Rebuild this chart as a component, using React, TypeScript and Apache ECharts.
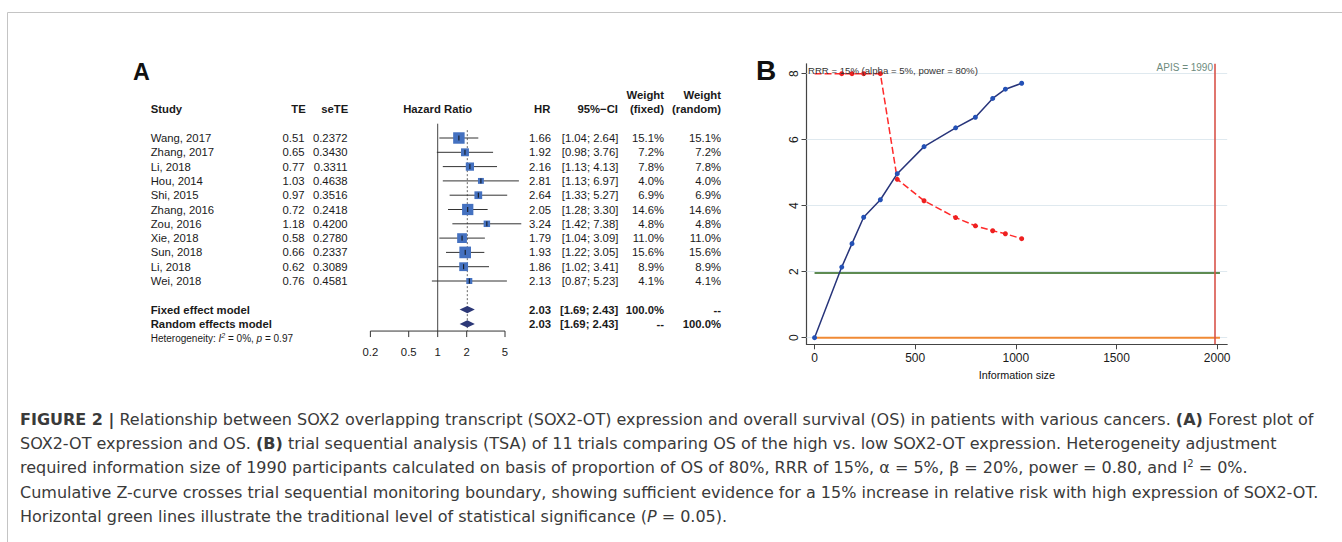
import React, { useEffect, useRef } from "react";
import * as echarts from "echarts";

const FONT = "'Liberation Sans', Arial, Helvetica, sans-serif";
const CAP_FONT = "'DejaVu Sans', 'Liberation Sans', sans-serif";

// ---------- Panel A data (forest plot) ----------
const STUDIES = ["Wang, 2017", "Zhang, 2017", "Li, 2018", "Hou, 2014", "Shi, 2015", "Zhang, 2016", "Zou, 2016", "Xie, 2018", "Sun, 2018", "Li, 2018", "Wei, 2018"];
const TE = [0.51, 0.65, 0.77, 1.03, 0.97, 0.72, 1.18, 0.58, 0.66, 0.62, 0.76];
const SE_TE = [0.2372, 0.343, 0.3311, 0.4638, 0.3516, 0.2418, 0.42, 0.278, 0.2337, 0.3089, 0.4581];
const HR = [1.66, 1.92, 2.16, 2.81, 2.64, 2.05, 3.24, 1.79, 1.93, 1.86, 2.13];
const CI_LO = [1.04, 0.98, 1.13, 1.13, 1.33, 1.28, 1.42, 1.04, 1.22, 1.02, 0.87];
const CI_HI = [2.64, 3.76, 4.13, 6.97, 5.27, 3.3, 7.38, 3.09, 3.05, 3.41, 5.23];
const W_FIXED = [15.1, 7.2, 7.8, 4.0, 6.9, 14.6, 4.8, 11.0, 15.6, 8.9, 4.1];
const W_RANDOM = [15.1, 7.2, 7.8, 4.0, 6.9, 14.6, 4.8, 11.0, 15.6, 8.9, 4.1];
const FIXED_HR = 2.03, FIXED_LO = 1.69, FIXED_HI = 2.43;
const RANDOM_HR = 2.03, RANDOM_LO = 1.69, RANDOM_HI = 2.43;
const HR_TICKS = [0.2, 0.5, 1, 2, 5];
const HR_TICK_LABELS = ["0.2", "0.5", "1", "2", "5"];

// ---------- Panel B data (TSA) ----------
const INFO = [0, 135, 186, 244, 327, 411, 544, 701, 799, 885, 948, 1029];
const Z_CURVE = [0, 2.14, 2.85, 3.65, 4.18, 4.97, 5.79, 6.36, 6.68, 7.25, 7.53, 7.71];
const BOUNDARY = [8, 8, 8, 8, 8, 4.8, 4.15, 3.64, 3.39, 3.24, 3.15, 3.0];
const APIS = 1990;
const SIG_Z = 1.96;
const REF_LINE_X = [0, 2014];
const X_TICKS = [0, 500, 1000, 1500, 2000];
const Y_TICKS = [0, 2, 4, 6, 8];
const GRID_Z = [0, 2, 4, 6, 8];

const CAPTION = [
  "{b|FIGURE 2 |} Relationship between SOX2 overlapping transcript (SOX2-OT) expression and overall survival (OS) in patients with various cancers. {b|(A)} Forest plot of",
  "SOX2-OT expression and OS. {b|(B)} trial sequential analysis (TSA) of 11 trials comparing OS of the high vs. low SOX2-OT expression. Heterogeneity adjustment",
  "required information size of 1990 participants calculated on basis of proportion of OS of 80%, RRR of 15%, α = 5%, β = 20%, power = 0.80, and I{sup|2} = 0%.",
  "Cumulative Z-curve crosses trial sequential monitoring boundary, showing sufficient evidence for a 15% increase in relative risk with high expression of SOX2-OT.",
  "Horizontal green lines illustrate the traditional level of statistical significance ({i|P} = 0.05).",
];

// ---------- layout constants ----------
const ROW_FIXED = 12, ROW_RANDOM = 13, ROW_HET = 14, AXIS_ROW = 13.5;
const TXT = "#1a1a1a";
const TS = 11.3;
const CAP_SIZE = 16;
const CAP_COLOR = "#3a3a3a";

const f2 = (v: number) => v.toFixed(2);
const ci = (lo: number, hi: number) => `[${f2(lo)}; ${f2(hi)}]`;
const pct = (v: number) => v.toFixed(1) + "%";

type Cell = [number, string, string, boolean, boolean?];
const C = { name: 150.7, te: 304.5, se: 347.5, hr: 551, ci: 618.3, wf: 664, wr: 721 };

const TABLE_ROWS: number[] = [-3, -2, ...STUDIES.map((_, i) => i), ROW_FIXED, ROW_RANDOM, ROW_HET];
const TABLE_CELLS: Cell[][] = [
  [[C.wf, "Weight", "right", true], [C.wr, "Weight", "right", true]],
  [
    [C.name, "Study", "left", true], [305.7, "TE", "right", true], [348.3, "seTE", "right", true],
    [437.7, "Hazard Ratio", "center", true], [550.3, "HR", "right", true], [618, "95%−CI", "right", true],
    [C.wf, "(fixed)", "right", true], [C.wr, "(random)", "right", true],
  ],
  ...STUDIES.map((s, i) => [
    [C.name, s, "left", false], [C.te, f2(TE[i]), "right", false], [C.se, SE_TE[i].toFixed(4), "right", false],
    [C.hr, f2(HR[i]), "right", false], [C.ci, ci(CI_LO[i], CI_HI[i]), "right", false],
    [C.wf, pct(W_FIXED[i]), "right", false], [C.wr, pct(W_RANDOM[i]), "right", false],
  ] as Cell[]),
  [
    [C.name, "Fixed effect model", "left", true], [C.hr, f2(FIXED_HR), "right", true], [C.ci, ci(FIXED_LO, FIXED_HI), "right", true],
    [C.wf, "100.0%", "right", true], [C.wr, "--", "right", true],
  ],
  [
    [C.name, "Random effects model", "left", true], [C.hr, f2(RANDOM_HR), "right", true], [C.ci, ci(RANDOM_LO, RANDOM_HI), "right", true],
    [C.wf, "--", "right", true], [C.wr, "100.0%", "right", true],
  ],
  [[C.name, "Heterogeneity: {i|I}{sup|2} = 0%, {i|p} = 0.97", "left", false, true]],
];

function textEl(x: number, y: number, text: string, align: string, bold: boolean, size: number, rich?: any) {
  const style: any = {
    text, fill: TXT, fontSize: size, fontFamily: FONT, fontWeight: bold ? "bold" : "normal",
    align, textAlign: align, verticalAlign: "middle", textVerticalAlign: "middle",
  };
  if (rich) style.rich = rich;
  return { type: "text", x, y, style };
}

function buildOption(): any {
  const richHet = {
    i: { fontStyle: "italic", fontSize: 10, fontFamily: FONT, fill: TXT, color: TXT },
    sup: { fontStyle: "italic", fontSize: 7, fontFamily: FONT, fill: TXT, color: TXT, verticalAlign: "top", padding: [0, 0, 5, 0] },
  };
  const capRich = {
    b: { fontWeight: "bold", fontSize: CAP_SIZE, fontFamily: CAP_FONT, fill: CAP_COLOR, color: CAP_COLOR },
    i: { fontStyle: "italic", fontSize: CAP_SIZE, fontFamily: CAP_FONT, fill: CAP_COLOR, color: CAP_COLOR },
    sup: { fontSize: 10, fontFamily: CAP_FONT, fill: CAP_COLOR, color: CAP_COLOR, padding: [0, 0, 9, 0] },
  };

  return {
    animation: false,
    backgroundColor: "#ffffff",
    grid: [
      { left: 341.4, top: 123.7, width: 192.6, height: 228.8 },
      { left: 806.5, top: 63.8, width: 420.7, height: 280.5 },
    ],
    xAxis: [
      { gridIndex: 0, type: "log", logBase: 10, min: 0.1, max: 10, show: false },
      {
        gridIndex: 1, type: "value", min: -40, max: 2050,
        axisLine: { show: true, onZero: false, lineStyle: { color: "#444", width: 1.2 } },
        axisTick: { show: true, customValues: X_TICKS, length: 5, lineStyle: { color: "#444" } },
        axisLabel: {
          customValues: X_TICKS, fontSize: 12, color: TXT, margin: 8, fontFamily: FONT,
          formatter: (v: number) => String(v),
        },
        splitLine: { show: false },
        name: "Information size", nameLocation: "middle", nameGap: 22,
        nameTextStyle: { fontSize: 10.8, color: "#111", fontFamily: FONT },
      },
    ],
    yAxis: [
      { gridIndex: 0, type: "value", inverse: true, min: -1, max: 15, show: false },
      {
        gridIndex: 1, type: "value", min: -0.2, max: 8.3,
        axisLine: { show: true, onZero: false, lineStyle: { color: "#444", width: 1.2 } },
        axisTick: { show: true, customValues: Y_TICKS, length: 5, lineStyle: { color: "#444" } },
        axisLabel: {
          customValues: Y_TICKS, rotate: 90, fontSize: 12, color: TXT, margin: 7, fontFamily: FONT,
          formatter: (v: number) => String(v),
        },
        splitLine: { show: false },
      },
    ],
    graphic: [
      { type: "line", shape: { x1: 7.5, y1: 12.5, x2: 1342, y2: 12.5 }, style: { stroke: "#c4c4c4", lineWidth: 1 } },
      { type: "line", shape: { x1: 7.5, y1: 12.5, x2: 7.5, y2: 542 }, style: { stroke: "#c4c4c4", lineWidth: 1 } },
      { type: "text", x: 133, y: 71.7, style: { text: "A", fontSize: 23.3, fontWeight: "bold", fontFamily: FONT, fill: "#111", textAlign: "left", textVerticalAlign: "middle" } },
      { type: "text", x: 756, y: 70, style: { text: "B", fontSize: 28, fontWeight: "bold", fontFamily: FONT, fill: "#111", textAlign: "left", textVerticalAlign: "middle" } },
      { type: "text", x: 808, y: 70, z: 100, style: { text: "RRR = 15% (alpha = 5%, power = 80%)", fontSize: 9.6, fontFamily: FONT, fill: "#333", textAlign: "left", textVerticalAlign: "middle" } },
      { type: "text", x: 1213, y: 67.5, style: { text: "APIS = 1990", fontSize: 10, fontFamily: FONT, fill: "#6e8b7e", textAlign: "right", textVerticalAlign: "middle" } },
      ...CAPTION.map((line, k) => ({
        type: "text", x: 20, y: [419, 443.5, 467.5, 492, 516][k],
        style: {
          text: line, fontSize: CAP_SIZE, fontFamily: CAP_FONT, fill: CAP_COLOR,
          textAlign: "left", textVerticalAlign: "middle", rich: capRich,
        },
      })),
    ],
    series: [
      // reference lines at HR = 1 and pooled estimate
      {
        type: "custom", xAxisIndex: 0, yAxisIndex: 0, clip: false, silent: true,
        encode: { x: 0, y: 1 },
        data: [[1, -1, AXIS_ROW, 0], [FIXED_HR, -0.55, AXIS_ROW, 1]],
        renderItem: (params: any, api: any) => {
          const a = api.coord([api.value(0), api.value(1)]);
          const b = api.coord([api.value(0), api.value(2)]);
          const dotted = api.value(3) === 1;
          return {
            type: "line", shape: { x1: a[0], y1: a[1], x2: b[0], y2: b[1] },
            style: { stroke: dotted ? "#666" : "#444", lineWidth: 1, lineDash: dotted ? [2, 2] : null },
          };
        },
      },
      // study squares + CI
      {
        type: "custom", xAxisIndex: 0, yAxisIndex: 0, clip: false, silent: true,
        encode: { x: 0, y: 1 },
        data: STUDIES.map((_, i) => [HR[i], i, CI_LO[i], CI_HI[i], W_FIXED[i]]),
        renderItem: (params: any, api: any) => {
          const p = api.coord([api.value(0), api.value(1)]);
          const lo = api.coord([api.value(2), api.value(1)]);
          const hi = api.coord([api.value(3), api.value(1)]);
          const side = 2.95 * Math.sqrt(api.value(4));
          return {
            type: "group",
            children: [
              { type: "line", shape: { x1: lo[0], y1: p[1], x2: hi[0], y2: p[1] }, style: { stroke: "#333", lineWidth: 1 } },
              { type: "rect", shape: { x: p[0] - side / 2, y: p[1] - side / 2, width: side, height: side }, style: { fill: "#4471c0" } },
              { type: "line", shape: { x1: p[0], y1: p[1] - 2.5, x2: p[0], y2: p[1] + 2.5 }, style: { stroke: "#111", lineWidth: 1 } },
            ],
          };
        },
      },
      // pooled diamonds
      {
        type: "custom", xAxisIndex: 0, yAxisIndex: 0, clip: false, silent: true,
        encode: { x: 0, y: 1 },
        data: [[FIXED_HR, ROW_FIXED, FIXED_LO, FIXED_HI], [RANDOM_HR, ROW_RANDOM, RANDOM_LO, RANDOM_HI]],
        renderItem: (params: any, api: any) => {
          const p = api.coord([api.value(0), api.value(1)]);
          const lo = api.coord([api.value(2), api.value(1)]);
          const hi = api.coord([api.value(3), api.value(1)]);
          return {
            type: "polygon",
            shape: { points: [[lo[0], p[1]], [p[0], p[1] - 3.7], [hi[0], p[1]], [p[0], p[1] + 3.7]] },
            style: { fill: "#2c3877" },
          };
        },
      },
      // forest x axis (drawn through the log scale)
      {
        type: "custom", xAxisIndex: 0, yAxisIndex: 0, clip: false, silent: true,
        encode: { x: 0, y: 1 },
        data: HR_TICKS.map((t) => [t, AXIS_ROW]),
        renderItem: (params: any, api: any) => {
          const p = api.coord([api.value(0), api.value(1)]);
          const children: any[] = [
            { type: "line", shape: { x1: p[0], y1: p[1], x2: p[0], y2: p[1] + 6 }, style: { stroke: "#333", lineWidth: 1 } },
            textEl(p[0], p[1] + 20.7, HR_TICK_LABELS[params.dataIndex], "center", false, TS),
          ];
          if (params.dataIndex === 0) {
            const a = api.coord([HR_TICKS[0], AXIS_ROW]);
            const b = api.coord([HR_TICKS[HR_TICKS.length - 1], AXIS_ROW]);
            children.push({ type: "line", shape: { x1: a[0], y1: a[1], x2: b[0], y2: b[1] }, style: { stroke: "#333", lineWidth: 1 } });
          }
          return { type: "group", children };
        },
      },
      // table text
      {
        type: "custom", xAxisIndex: 0, yAxisIndex: 0, clip: false, silent: true,
        encode: { x: 0, y: 1 },
        data: TABLE_ROWS.map((r) => [1, r]),
        renderItem: (params: any, api: any) => {
          const y = api.coord([1, api.value(1)])[1];
          const cells = TABLE_CELLS[params.dataIndex];
          return {
            type: "group",
            children: cells.map((c) =>
              c[4] ? textEl(c[0], y, c[1], c[2], c[3], 10, richHet) : textEl(c[0], y, c[1], c[2], c[3], TS)
            ),
          };
        },
      },
      // Panel B: null line (orange) with light gridlines
      {
        type: "line", xAxisIndex: 1, yAxisIndex: 1, silent: true, symbol: "none", z: 2,
        data: REF_LINE_X.map((x) => [x, 0]),
        lineStyle: { color: "#f08a35", width: 2 },
        markLine: {
          silent: true, symbol: ["none", "none"], label: { show: false },
          lineStyle: { color: "#dfe9ef", width: 1, type: "solid" },
          data: GRID_Z.map((v) => ({ yAxis: v })),
          z: 1,
        },
      },
      // conventional significance (green)
      {
        type: "line", xAxisIndex: 1, yAxisIndex: 1, silent: true, symbol: "none", z: 3,
        data: REF_LINE_X.map((x) => [x, SIG_Z]),
        lineStyle: { color: "#5e8b52", width: 2 },
      },
      // monitoring boundary (red dashed)
      {
        type: "line", xAxisIndex: 1, yAxisIndex: 1, silent: true, z: 4,
        data: INFO.map((x, i) => (i === 0 ? { value: [x, BOUNDARY[i]], symbol: "none" } : [x, BOUNDARY[i]])),
        symbol: "circle", symbolSize: 5,
        lineStyle: { color: "#ff2a2a", width: 1.5, type: [7, 3] },
        itemStyle: { color: "#ee2020" },
      },
      // cumulative Z-curve (blue) + APIS line
      {
        type: "line", xAxisIndex: 1, yAxisIndex: 1, silent: true, z: 5,
        data: INFO.map((x, i) => [x, Z_CURVE[i]]),
        symbol: "circle", symbolSize: 5,
        lineStyle: { color: "#27347a", width: 1.5 },
        itemStyle: { color: "#2451b6" },
        markLine: {
          silent: true, symbol: ["none", "none"], label: { show: false },
          lineStyle: { color: "#d9534a", width: 1.6, type: "solid" },
          data: [{ xAxis: APIS }],
        },
      },
    ],
  };
}

export default function App() {
  const ref = useRef<HTMLDivElement>(null);
  useEffect(() => {
    const chart = echarts.init(ref.current as HTMLDivElement, null, { renderer: "svg" });
    chart.setOption(buildOption());
    return () => chart.dispose();
  }, []);
  return (
    <div
      ref={ref}
      style={{ position: "fixed", left: 0, top: 0, width: 1342, height: 542, background: "#fff" }}
    />
  );
}
